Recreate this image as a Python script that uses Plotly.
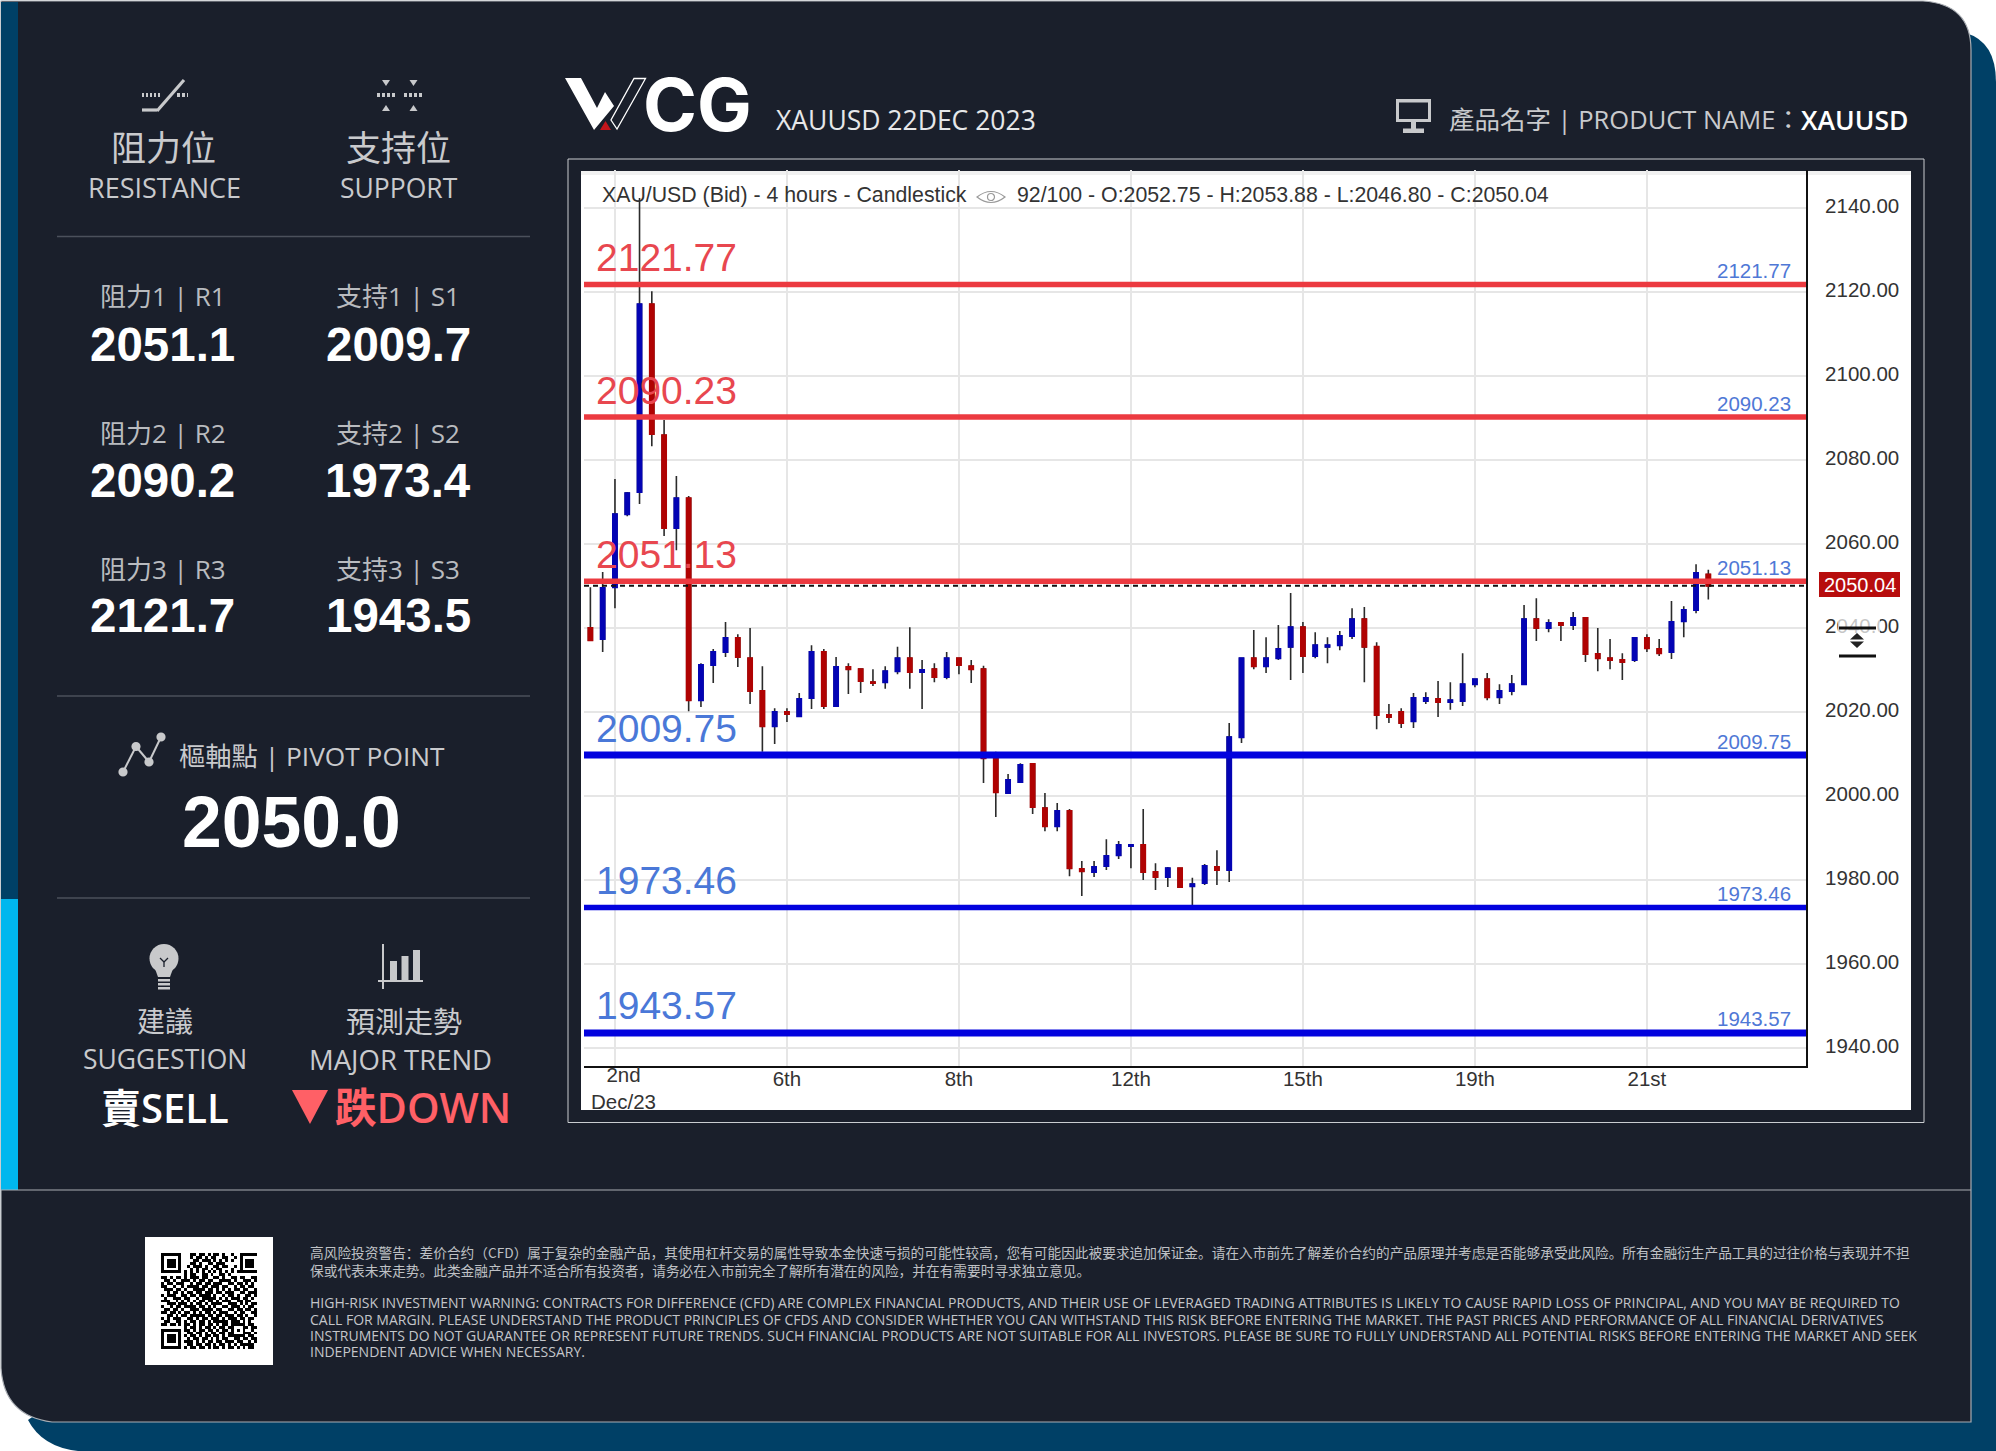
import plotly.graph_objects as go

W, H = 1996, 1451

# 4 hour candles, 92 of 100 shown
candle_open = [2040.0, 2037.4, 2049.7, 2067.1, 2072.4, 2117.1, 2085.9, 2063.8, 2070.9, 2022.8,
               2031.2, 2034.3, 2037.6, 2032.8, 2025.0, 2016.6, 2020.0, 2019.0, 2023.3, 2034.3,
               2021.4, 2030.7, 2030.2, 2027.1, 2027.1, 2029.7, 2032.8, 2029.5, 2030.2, 2028.3,
               2032.8, 2030.9, 2030.2, 2009.0, 2000.7, 2003.3, 2007.6, 1997.1, 1992.8, 1996.4,
               1982.6, 1981.9, 1983.3, 1985.9, 1988.1, 1988.3, 1981.9, 1980.7, 1982.8, 1978.5,
               1979.3, 1983.1, 1982.4, 2014.0, 2032.8, 2030.9, 2032.8, 2035.5, 2040.2, 2033.3,
               2035.5, 2035.9, 2038.1, 2042.1, 2035.5, 2019.3, 2020.0, 2017.8, 2022.6, 2023.1,
               2022.4, 2022.6, 2026.6, 2027.8, 2023.5, 2025.0, 2026.6, 2042.1, 2040.0, 2041.2,
               2040.7, 2042.4, 2033.8, 2032.8, 2032.4, 2032.4, 2037.6, 2035.0, 2034.3, 2041.6,
               2044.3, 2052.75]
candle_high = [2049.7, 2053.3, 2075.5, 2072.4, 2142.4, 2120.2, 2089.5, 2076.2, 2071.4, 2031.6,
               2035.0, 2041.4, 2038.5, 2040.0, 2030.9, 2020.9, 2020.9, 2024.5, 2035.9, 2035.0,
               2033.1, 2031.6, 2030.2, 2030.2, 2030.9, 2035.5, 2040.2, 2032.4, 2031.6, 2034.3,
               2032.8, 2032.4, 2031.0, 2010.5, 2005.2, 2007.8, 2007.8, 2000.7, 1998.3, 1996.9,
               1984.5, 1984.5, 1989.7, 1989.3, 1988.3, 1996.9, 1984.0, 1983.1, 1982.8, 1980.5,
               1983.8, 1987.1, 2017.4, 2032.8, 2039.5, 2037.8, 2040.7, 2048.3, 2041.4, 2039.0,
               2037.8, 2039.3, 2044.7, 2045.0, 2036.6, 2021.9, 2020.9, 2024.5, 2024.7, 2027.4,
               2027.1, 2034.0, 2027.8, 2029.3, 2026.6, 2028.8, 2045.5, 2047.1, 2042.1, 2041.2,
               2043.8, 2042.4, 2040.0, 2037.4, 2034.0, 2037.6, 2038.5, 2037.4, 2046.4, 2045.2,
               2055.2, 2053.88]
candle_low = [2036.9, 2034.3, 2044.7, 2066.6, 2069.5, 2083.3, 2061.9, 2058.5, 2020.2, 2021.2,
              2026.9, 2033.1, 2030.7, 2021.9, 2010.5, 2012.4, 2017.6, 2018.8, 2020.7, 2020.7,
              2021.4, 2024.3, 2024.5, 2026.2, 2025.5, 2029.0, 2025.5, 2020.7, 2027.1, 2027.8,
              2029.0, 2026.9, 2003.1, 1995.0, 2000.5, 2003.1, 1995.7, 1991.6, 1991.6, 1980.9,
              1976.2, 1980.7, 1982.4, 1985.0, 1982.8, 1980.0, 1977.6, 1978.3, 1978.1, 1974.0,
              1978.8, 1978.8, 1979.5, 2012.6, 2030.2, 2029.3, 2032.4, 2027.6, 2029.3, 2032.8,
              2031.6, 2034.7, 2037.4, 2027.1, 2015.9, 2017.4, 2016.2, 2016.2, 2021.9, 2018.8,
              2020.5, 2021.4, 2025.9, 2022.8, 2021.9, 2024.0, 2026.4, 2036.9, 2039.0, 2036.9,
              2039.5, 2031.9, 2029.7, 2030.2, 2027.6, 2031.9, 2034.3, 2033.3, 2032.6, 2037.8,
              2043.5, 2046.80]
candle_close = [2037.1, 2049.5, 2067.1, 2072.1, 2117.1, 2086.2, 2063.8, 2070.9, 2022.8, 2031.2,
                2034.3, 2037.6, 2033.1, 2025.0, 2016.6, 2020.0, 2019.5, 2023.1, 2034.3, 2021.4,
                2030.7, 2030.2, 2027.4, 2026.9, 2029.7, 2032.8, 2029.5, 2030.0, 2028.3, 2032.8,
                2031.2, 2030.2, 2009.0, 2000.9, 2003.8, 2007.4, 1997.4, 1992.8, 1996.4, 1982.8,
                1982.1, 1983.1, 1985.7, 1988.3, 1988.3, 1981.9, 1980.7, 1982.8, 1978.3, 1979.0,
                1983.3, 1982.4, 2014.0, 2032.8, 2030.9, 2032.8, 2035.0, 2040.2, 2033.3, 2035.9,
                2035.9, 2038.1, 2042.1, 2035.5, 2019.3, 2018.8, 2017.4, 2023.3, 2023.3, 2022.4,
                2022.8, 2026.6, 2027.8, 2023.5, 2025.0, 2026.6, 2042.1, 2040.0, 2041.2, 2040.7,
                2042.4, 2033.8, 2032.8, 2032.4, 2031.9, 2037.6, 2035.2, 2034.0, 2041.4, 2044.3,
                2053.1, 2050.04]
candle_index = list(range(len(candle_open)))

date_ticks = [16, 30, 44, 58, 72, 86]
date_labels = ["6th", "8th", "12th", "15th", "19th", "21st"]
first_date_label = "2nd<br>Dec/23"
price_ticks = [1940, 1960, 1980, 2000, 2020, 2040, 2060, 2080, 2100, 2120, 2140]

resistance_levels = [2121.77, 2090.23, 2051.13]
support_levels = [2009.75, 1973.46, 1943.57]
last_price = 2050.04

resistance_names = ["阻力1 | R1", "阻力2 | R2", "阻力3 | R3"]
resistance_values = ["2051.1", "2090.2", "2121.7"]
support_names = ["支持1 | S1", "支持2 | S2", "支持3 | S3"]
support_values = ["2009.7", "1973.4", "1943.5"]

disclaimer_cn = [
    "高风险投资警告：差价合约（CFD）属于复杂的金融产品，其使用杠杆交易的属性导致本金快速亏损的可能性较高，您有可能因此被要求追加保证金。请在入市前先了解差价合约的产品原理并考虑是否能够承受此风险。所有金融衍生产品工具的过往价格与表现并不担",
    "保或代表未来走势。此类金融产品并不适合所有投资者，请务必在入市前完全了解所有潜在的风险，并在有需要时寻求独立意见。",
]
disclaimer_en = [
    "HIGH-RISK INVESTMENT WARNING: CONTRACTS FOR DIFFERENCE (CFD) ARE COMPLEX FINANCIAL PRODUCTS, AND THEIR USE OF LEVERAGED TRADING ATTRIBUTES IS LIKELY TO CAUSE RAPID LOSS OF PRINCIPAL, AND YOU MAY BE REQUIRED TO",
    "CALL FOR MARGIN. PLEASE UNDERSTAND THE PRODUCT PRINCIPLES OF CFDS AND CONSIDER WHETHER YOU CAN WITHSTAND THIS RISK BEFORE ENTERING THE MARKET. THE PAST PRICES AND PERFORMANCE OF ALL FINANCIAL DERIVATIVES",
    "INSTRUMENTS DO NOT GUARANTEE OR REPRESENT FUTURE TRENDS. SUCH FINANCIAL PRODUCTS ARE NOT SUITABLE FOR ALL INVESTORS. PLEASE BE SURE TO FULLY UNDERSTAND ALL POTENTIAL RISKS BEFORE ENTERING THE MARKET AND SEEK",
    "INDEPENDENT ADVICE WHEN NECESSARY.",
]

# qr modules
qr_rows = [
    "111111100011011010110100100" + "1111111"[:6] + "1",
    "100000100010110101100110010" + "1000001",
    "101110100001101110101010100" + "1011101",
    "101110100011010011011100000" + "1011101",
    "101110100101110100110110010" + "1011101",
    "100000100010101101011000100" + "1000001",
    "111111101010101010101010101" + "1111111"[:6] + "1",
    "00000000" + "10110011010011010" + "00000000",
    "11010110101" + "11011001101" + "00110110011",
    "01101001110" + "10110110011" + "11010011101",
    "10110111001" + "01101101110" + "01101101010",
    "11001001011" + "11011011101" + "10010110110",
    "01110110100" + "11110110101" + "01011011001",
    "00101101011" + "01101110110" + "11100110111",
    "10111001101" + "10111101001" + "01101001101",
    "01001110110" + "01011111010" + "10111011010",
    "11100101010" + "10110110101" + "11001101100",
    "00111011101" + "01101011110" + "01110101011",
    "10010110111" + "10110101001" + "10111010110",
    "01101101001" + "11011110110" + "01101101101",
    "11011010110" + "10101101011" + "10010110011",
    "00110101101" + "11110110110" + "11101101001",
    "10101110011" + "01011011101" + "01110110110",
    "01100110101" + "10110101111" + "10111010100",
    "110110101101011011010110" + "11111" + "0110",
    "00000000" + "1011010110101101" + "10001" + "1011",
    "1111111" + "0" + "1101011011010110" + "10101" + "0010",
    "1000001" + "0" + "0110110101101101" + "10001" + "1101",
    "1011101" + "0" + "1011010110110101" + "11111" + "0110",
    "1011101" + "0" + "0101101101010110" + "01101" + "1011",
    "1011101" + "0" + "1110101011011011" + "10110" + "0101",
    "1000001" + "0" + "0110110110101101" + "01011" + "1110",
    "1111111" + "0" + "1011011010110101" + "10101" + "0110",
]
qr_modules = [[int(c) for c in row] for row in qr_rows]

DARK = "#1a1f2b"
NAVY = "#004066"
CYAN = "#00b7ee"
ICON = "#c8c9cb"
LABEL = "#b9bbbf"
HEAD = "#c9cacd"
SANS = "Open Sans, Noto Sans CJK TC"
ARIAL = "Liberation Sans"

PLOT_L, PLOT_R, PLOT_T, PLOT_B = 584, 1806, 170, 1066


def fx(x):
    return x / W


def fy(y):
    return 1 - y / H


def rect(x0, y0, x1, y1, color, line=None, layer="below", opacity=1):
    return dict(type="rect", xref="paper", yref="paper", x0=fx(x0), x1=fx(x1), y0=fy(y0), y1=fy(y1),
                fillcolor=color, line=dict(color=line or "rgba(0,0,0,0)", width=1 if line else 0),
                layer=layer, opacity=opacity)


def seg(x0, y0, x1, y1, color=ICON, width=3, dash=None, layer="below"):
    return dict(type="line", xref="paper", yref="paper", x0=fx(x0), x1=fx(x1), y0=fy(y0), y1=fy(y1),
                line=dict(color=color, width=width, dash=dash or "solid"), layer=layer)


def poly(pts, fill=ICON, line=None, width=0, layer="below"):
    d = "M " + " L ".join(f"{fx(x):.5f},{fy(y):.5f}" for x, y in pts) + " Z"
    return dict(type="path", xref="paper", yref="paper", path=d, fillcolor=fill,
                line=dict(color=line or "rgba(0,0,0,0)", width=width), layer=layer)


def curve(cmds, fill, line=None, width=0, layer="below"):
    # cmds like [("M",x,y),("Q",cx,cy,x,y),("L",x,y)]
    parts = []
    for c in cmds:
        nums = c[1:]
        coords = [f"{fx(nums[i]):.5f},{fy(nums[i + 1]):.5f}" for i in range(0, len(nums), 2)]
        parts.append(c[0] + " " + " ".join(coords))
    return dict(type="path", xref="paper", yref="paper", path=" ".join(parts) + " Z", fillcolor=fill,
                line=dict(color=line or "rgba(0,0,0,0)", width=width), layer=layer)


def circle(cx, cy, r, fill=ICON, line=None, width=0, layer="below"):
    return dict(type="circle", xref="paper", yref="paper", x0=fx(cx - r), x1=fx(cx + r), y0=fy(cy - r), y1=fy(cy + r),
                fillcolor=fill, line=dict(color=line or "rgba(0,0,0,0)", width=width), layer=layer)


def txt(x, y, s, size, color=LABEL, family=SANS, anchor="center", weight=None):
    font = dict(size=size, color=color, family=family)
    if weight:
        font["weight"] = weight
    return dict(xref="paper", yref="paper", x=fx(x), y=fy(y), text=s, showarrow=False, xanchor=anchor,
                yanchor="middle", font=font, borderpad=0, borderwidth=0)


fig = go.Figure()

# wicks first, then the coloured bodies over them
fig.add_trace(go.Candlestick(
    x=candle_index, open=candle_open, high=candle_high, low=candle_low, close=candle_close,
    increasing=dict(line=dict(color="#2b2b2b", width=1.6), fillcolor="#2b2b2b"),
    decreasing=dict(line=dict(color="#2b2b2b", width=1.6), fillcolor="#2b2b2b"),
    showlegend=False, hoverinfo="skip"))
fig.add_trace(go.Candlestick(
    x=candle_index, open=candle_open, close=candle_close,
    high=[max(o, c) for o, c in zip(candle_open, candle_close)],
    low=[min(o, c) for o, c in zip(candle_open, candle_close)],
    increasing=dict(line=dict(color="#0404b4", width=2), fillcolor="#0404b4"),
    decreasing=dict(line=dict(color="#b00303", width=2), fillcolor="#b00303"),
    showlegend=False, hoverinfo="skip"))

# qr code on its own little axes
fig.add_trace(go.Heatmap(z=qr_modules, xaxis="x2", yaxis="y2", zmin=0, zmax=1, showscale=False,
                         colorscale=[[0, "#ffffff"], [1, "#000000"]], hoverinfo="skip"))

shapes = [
    # back card and main card
    curve([("M", 1966, 33), ("Q", 1996, 42, 1996, 82), ("L", 1996, 1451), ("L", 78, 1451),
           ("Q", 42, 1447, 28, 1420)], NAVY),
    curve([("M", 1, 1), ("L", 1923, 1), ("Q", 1971, 4, 1971, 50), ("L", 1971, 1422), ("L", 52, 1422),
           ("Q", 4, 1416, 1, 1368)], DARK, line="#a9adb3", width=1.2),
    rect(1, 2, 18, 899, NAVY),
    rect(1, 899, 18, 1190, CYAN),
    seg(1, 1190, 1971, 1190, "#a9adb3", 1.2),
    # left panel separators
    seg(57, 236.5, 530, 236.5, "#4b505b", 1.5),
    seg(57, 696, 530, 696, "#4b505b", 1.5),
    seg(57, 898, 530, 898, "#4b505b", 1.5),
    # chart frame
    rect(568, 159, 1924, 1122.5, DARK, line="#c9ccd0"),
    rect(581, 171, 1911, 1110, "#ffffff"),
    rect(581, 171, 1911, 175, "#f1f1f1"),
    # qr background
    rect(145, 1237, 273, 1365, "#ffffff"),
    # resistance icon
    seg(142, 95, 160, 95, ICON, 4, "2px,2px"),
    seg(177, 95, 188, 95, ICON, 4, "3px,2px"),
    seg(184, 80, 157, 111, ICON, 3.2),
    seg(157, 110, 142, 110, ICON, 3.2),
    # support icon
    seg(377, 95, 395, 95, ICON, 4, "3px,2px"),
    seg(404, 95, 423, 95, ICON, 4, "3px,2px"),
    poly([(382, 80), (390, 80), (386, 86)]),
    poly([(409.5, 80), (417.5, 80), (413.5, 86)]),
    poly([(382, 111), (390, 111), (386, 105)]),
    poly([(409.5, 111), (417.5, 111), (413.5, 105)]),
    # pivot icon
    seg(123, 772, 136, 746.5, ICON, 2),
    seg(136, 746.5, 149, 762, ICON, 2),
    seg(149, 762, 161, 737, ICON, 2),
    circle(123, 772, 4.6), circle(136, 746.5, 4.6), circle(149, 762, 4.6), circle(161, 737, 4.6),
    # bulb
    circle(164, 958.5, 14.5),
    poly([(154, 966), (174, 966), (170, 977), (158, 977)]),
    rect(158, 979, 170, 981.5, ICON), rect(158, 983, 170, 985.5, ICON), rect(158, 987, 170, 989.5, ICON),
    seg(160, 958, 164, 962, DARK, 1.3), seg(168, 958, 164, 962, DARK, 1.3), seg(164, 962, 164, 967, DARK, 1.3),
    # bars icon
    seg(383, 944, 383, 989, ICON, 2), seg(378, 981, 423, 981, ICON, 2),
    rect(390, 961, 397, 980, ICON), rect(401.5, 956, 408.5, 980, ICON), rect(413, 950, 420, 980, ICON),
    # down arrow
    poly([(292, 1090), (328, 1090), (310, 1124)], "#ff6066"),
    # wcg mark
    poly([(565, 78), (581, 78), (597, 108), (605, 92), (614, 106), (594, 130)], "#ffffff"),
    poly([(600, 130), (611, 130), (605.5, 121)], "#c4161c"),
    poly([(634, 78.5), (645.5, 78.5), (617, 129), (611, 120)], "rgba(0,0,0,0)", line="#ffffff", width=1.3),
    # monitor icon
    rect(1396, 99, 1431, 102.5, ICON), rect(1396, 99, 1399, 122, ICON), rect(1428, 99, 1431, 122, ICON),
    rect(1396, 119, 1431, 122, ICON),
    rect(1411, 122, 1416, 129, ICON), rect(1403, 128.5, 1424, 133, ICON),
    # eye in the chart header
    curve([("M", 977, 197), ("Q", 991, 186, 1005, 197), ("Q", 991, 208, 977, 197)], "rgba(0,0,0,0)",
          line="#9a9a9a", width=1.2, layer="above"),
    circle(991, 197, 3.5, "rgba(0,0,0,0)", line="#9a9a9a", width=1.2, layer="above"),
    # price tag
    rect(1819, 572, 1900, 597, "#b70d0d", layer="above"),
    # resize cursor sitting on the 2040 label
    rect(1838, 616, 1880, 640, "#ffffff", layer="above", opacity=0.72),
    seg(1839, 628, 1876, 628, "#111111", 3, layer="above"),
    seg(1839, 656, 1876, 656, "#111111", 3, layer="above"),
    poly([(1857, 633), (1850, 639.5), (1864, 639.5)], "#222222", layer="above"),
    poly([(1857, 648), (1850, 641.5), (1864, 641.5)], "#222222", layer="above"),
]

annotations = [
    txt(163, 148, "阻力位", 35, HEAD), txt(398, 148, "支持位", 35, HEAD),
    txt(164, 187.5, "RESISTANCE", 27, HEAD), txt(399, 187.5, "SUPPORT", 26.5, HEAD),
    txt(312, 756, "樞軸點 | PIVOT POINT", 26.3, HEAD),
    txt(291, 822, "2050.0", 71.5, "#ffffff", ARIAL, weight=700),
    txt(165, 1021, "建議", 28, HEAD), txt(403.6, 1021, "預測走勢", 29, HEAD),
    txt(165, 1059, "SUGGESTION", 26.5, HEAD), txt(400.7, 1059, "MAJOR TREND", 27.5, HEAD),
    txt(165, 1107, "賣SELL", 40, "#ffffff", weight=600),
    txt(423, 1107, "跌DOWN", 41.5, "#ff6066", weight=600),
    txt(697, 104, "CG", 73, "#ffffff", "Inter", weight=700),
    txt(776, 120, "XAUUSD 22DEC 2023", 26.5, "#e6e7e9", anchor="left"),
    txt(1449, 119, "產品名字 | PRODUCT NAME：", 25.5, HEAD, anchor="left"),
    txt(1801, 120, "XAUUSD", 26.5, "#ffffff", anchor="left", weight=600),
    txt(602, 195, "XAU/USD (Bid) - 4 hours - Candlestick", 21.3, "#333333", ARIAL, anchor="left"),
    txt(1017, 195, "92/100 - O:2052.75 - H:2053.88 - L:2046.80 - C:2050.04", 21.3, "#333333", ARIAL, anchor="left"),
    txt(1859.5, 585, f"{last_price:.2f}", 20, "#ffffff", ARIAL),
    txt(623.6, 1088, first_date_label, 20.5, "#333333", ARIAL),
]

for i in range(3):
    annotations.append(txt(163, [296, 433, 569][i], resistance_names[i], 26))
    annotations.append(txt(162.5, [344, 481, 616][i], resistance_values[i], 47.5, "#ffffff", ARIAL, weight=700))
    annotations.append(txt(397.5, [296, 433, 569][i], support_names[i], 26))
    annotations.append(txt(398, [344, 481, 616][i], support_values[i], 47.5, "#ffffff", ARIAL, weight=700))

for y, line in zip([1252, 1270], disclaimer_cn):
    annotations.append(txt(310, y, line, 13.7, "#bfc1c5", "Noto Sans CJK SC", anchor="left"))
for y, line in zip([1302.7, 1319.1, 1335.5, 1351.9], disclaimer_en):
    annotations.append(txt(310, y, line, 14, "#c4c6ca", "Open Sans", anchor="left"))

fig.update_layout(
    width=W, height=H, margin=dict(l=0, r=0, t=0, b=0), autosize=False,
    paper_bgcolor="#ffffff", plot_bgcolor="rgba(0,0,0,0)", hovermode=False, showlegend=False,
    boxgap=0.55, shapes=shapes, annotations=annotations,
    xaxis=dict(domain=[fx(PLOT_L), fx(PLOT_R)], range=[-0.52, 98.95], rangeslider=dict(visible=False),
               tickmode="array", tickvals=[2] + date_ticks, ticktext=[""] + date_labels, ticklabelstandoff=-7,
               tickfont=dict(family=ARIAL, size=20.5, color="#333333"), ticks="",
               showgrid=True, gridcolor="#e6e6e6", gridwidth=1.6, zeroline=False,
               showline=True, linecolor="#111111", linewidth=2),
    yaxis=dict(domain=[fy(PLOT_B), fy(PLOT_T)], range=[1935.7, 2149.05], side="right",
               tickmode="array", tickvals=price_ticks, tickformat=".2f", ticklabelstandoff=13,
               ticklabelshift=-2,
               tickfont=dict(family=ARIAL, size=20.5, color="#333333"), ticks="",
               showgrid=True, gridcolor="#e6e6e6", gridwidth=1.6, zeroline=False,
               showline=True, linecolor="#111111", linewidth=2),
    xaxis2=dict(domain=[fx(161), fx(257)], range=[-0.5, 32.5], visible=False, anchor="y2"),
    yaxis2=dict(domain=[fy(1349), fy(1253)], range=[32.5, -0.5], visible=False, anchor="x2"),
)

for level in resistance_levels:
    fig.add_hline(y=level, line_color="#ec3a40", line_width=5.5)
    fig.add_annotation(x=0.3, y=level, text=f"{level:.2f}", showarrow=False, xanchor="left", yanchor="middle",
                       yshift=27, font=dict(family=ARIAL, size=39, color="#e8474f"))
    fig.add_annotation(x=98.95, y=level, text=f"{level:.2f}", showarrow=False, xanchor="right", yanchor="middle",
                       xshift=-13, yshift=14, font=dict(family=ARIAL, size=20.5, color="#4f78d6"))
for level, width in zip(support_levels, [7, 5.5, 7]):
    fig.add_hline(y=level, line_color="#0202de", line_width=width)
    fig.add_annotation(x=0.3, y=level, text=f"{level:.2f}", showarrow=False, xanchor="left", yanchor="middle",
                       yshift=27, font=dict(family=ARIAL, size=39, color="#4a78d8"))
    fig.add_annotation(x=98.95, y=level, text=f"{level:.2f}", showarrow=False, xanchor="right", yanchor="middle",
                       xshift=-13, yshift=14, font=dict(family=ARIAL, size=20.5, color="#4f78d6"))
fig.add_hline(y=last_price, line_color="#111111", line_width=2, line_dash="5px,4px")

# page margin would push everything 8px in
fig.write_html("out.html", config=dict(displayModeBar=False),
               post_script="document.body.style.margin='0';document.body.style.overflow='hidden';")
